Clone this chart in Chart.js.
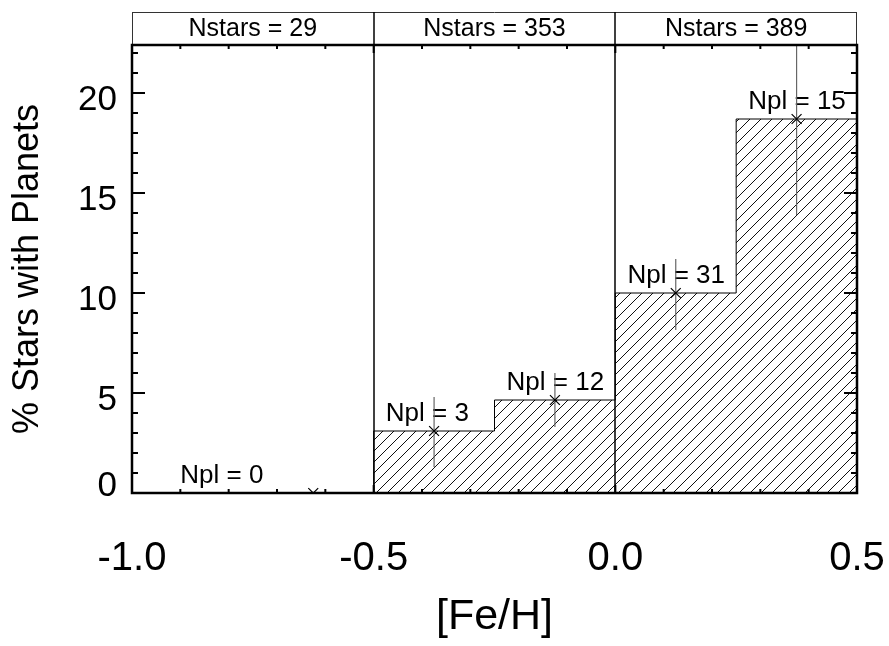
<!DOCTYPE html>
<html><head><meta charset="utf-8">
<script src="https://cdn.jsdelivr.net/npm/chart.js@4/dist/chart.umd.min.js"></script>
<style>html,body{margin:0;padding:0;background:#fff}canvas{display:block}</style>
</head><body>
<canvas id="c" width="889" height="646"></canvas>
<script>
// ---- data ----
const binEdges = [-1.0, -0.5, -0.25, 0.0, 0.25, 0.5];
const percentPlanets = [0.0, 3.1, 4.65, 10.0, 18.7];
const pointFeH = [-0.625, -0.375, -0.125, 0.125, 0.375];
const errLow = [0.0, 1.3, 3.3, 8.15, 13.9];
const errHigh = [0.0, 4.8, 6.0, 11.7, 23.5];
const nPlanets = [0, 3, 12, 31, 15];
const starGroupEdges = [-1.0, -0.5, 0.0, 0.5];
const nStars = [29, 353, 389];
const xTicks = [-1.0, -0.5, 0.0, 0.5];
const yTicks = [0, 5, 10, 15, 20];
const xMinorStep = 0.1;
const yMinorStep = 1;
const xRange = [-1.0, 0.5];
const yRange = [0, 22.4];

const FONT = '"Liberation Sans", Arial, Helvetica, sans-serif';
const labelDx = [-0.275, -0.1, -0.1, -0.1, -0.1];
const labelDy = 0.5;

function makeHatch() {
  const s = 11;
  const c = document.createElement('canvas');
  c.width = s; c.height = s;
  const g = c.getContext('2d');
  g.strokeStyle = '#111'; g.lineWidth = 1;
  g.beginPath();
  g.moveTo(-1, s + 1); g.lineTo(s + 1, -1);
  g.moveTo(-2, 2); g.lineTo(2, -2);
  g.moveTo(s - 2, s + 2); g.lineTo(s + 2, s - 2);
  g.stroke();
  return g.createPattern(c, 'repeat');
}

const histPoints = binEdges.map((e, i) => ({ x: e, y: percentPlanets[Math.min(i, percentPlanets.length - 1)] }));
const crossPoints = pointFeH.map((v, i) => ({ x: v, y: percentPlanets[i] }));
const errDatasets = pointFeH.map((v, i) => ({
  type: 'line', order: 2,
  data: [{ x: v, y: errLow[i] }, { x: v, y: errHigh[i] }],
  borderColor: '#666', borderWidth: 1.2, pointRadius: 0, fill: false
}));

function ticksOn(scale, from, to, step, majors, cb) {
  const n = Math.round((to - from) / step);
  for (let k = 0; k <= n; k++) {
    const v = from + k * step;
    const isMajor = majors.some(m => Math.abs(m - v) < 1e-6);
    cb(scale.getPixelForValue(v), isMajor);
  }
}

const framePlugin = {
  id: 'frame',
  beforeDatasetsDraw(chart) {
    const { ctx, scales: { x, y } } = chart;
    ctx.save();
    ctx.font = '26px ' + FONT;
    ctx.fillStyle = '#000';
    ctx.textAlign = 'left';
    ctx.textBaseline = 'alphabetic';
    nPlanets.forEach((n, i) => {
      ctx.fillText('Npl = ' + n, x.getPixelForValue(pointFeH[i] + labelDx[i]), y.getPixelForValue(percentPlanets[i] + labelDy));
    });
    ctx.restore();
  },
  afterDatasetsDraw(chart) {
    const { ctx, chartArea: a, scales: { x, y } } = chart;
    ctx.save();
    const hTop = a.top - 33;
    // header boxes
    ctx.strokeStyle = '#333'; ctx.lineWidth = 1;
    ctx.beginPath();
    ctx.moveTo(a.left, hTop + 0.5); ctx.lineTo(a.right, hTop + 0.5);
    ctx.moveTo(a.left + 0.5, hTop); ctx.lineTo(a.left + 0.5, a.top);
    ctx.moveTo(a.right - 0.5, hTop); ctx.lineTo(a.right - 0.5, a.top);
    ctx.stroke();
    ctx.font = '25px ' + FONT; ctx.textAlign = 'center'; ctx.textBaseline = 'middle'; ctx.fillStyle = '#000';
    nStars.forEach((n, i) => {
      const x0 = x.getPixelForValue(starGroupEdges[i]), x1 = x.getPixelForValue(starGroupEdges[i + 1]);
      ctx.fillText('Nstars = ' + n, (x0 + x1) / 2, (hTop + a.top) / 2 + 1);
    });
    // separators
    ctx.strokeStyle = '#000'; ctx.lineWidth = 1.5;
    starGroupEdges.slice(1, -1).forEach(v => {
      const px = Math.round(x.getPixelForValue(v));
      ctx.beginPath(); ctx.moveTo(px, hTop); ctx.lineTo(px, a.bottom); ctx.stroke();
    });
    // frame
    ctx.lineWidth = 2.5;
    ctx.strokeRect(a.left, a.top, a.right - a.left, a.bottom - a.top);
    // ticks
    ctx.lineWidth = 2;
    ctx.beginPath();
    ticksOn(x, xRange[0], xRange[1], xMinorStep, xTicks, (px, maj) => {
      const L = maj ? 8 : 4;
      ctx.moveTo(px, a.bottom); ctx.lineTo(px, a.bottom - L);
      ctx.moveTo(px, a.top); ctx.lineTo(px, a.top + L);
    });
    ticksOn(y, yRange[0], Math.floor(yRange[1]), yMinorStep, yTicks, (py, maj) => {
      const L = maj ? 13 : 6;
      ctx.moveTo(a.left, py); ctx.lineTo(a.left + L, py);
      ctx.moveTo(a.right, py); ctx.lineTo(a.right - L, py);
    });
    ctx.stroke();
    ctx.restore();
  }
};

function zeroPad(s) { s.paddingLeft = 0; s.paddingRight = 0; s.paddingTop = 0; s.paddingBottom = 0; }

new Chart(document.getElementById('c'), {
  type: 'line',
  data: {
    datasets: [
      {
        type: 'line', order: 10, data: histPoints, stepped: 'before', borderColor: '#000', borderWidth: 1,
        backgroundColor: makeHatch(), fill: 'origin', pointRadius: 0
      },
      ...errDatasets,
      {
        type: 'scatter', order: 0, data: crossPoints, pointStyle: 'crossRot', pointRadius: 7,
        borderColor: '#000', backgroundColor: '#000', borderWidth: 1.2, showLine: false
      }
    ]
  },
  options: {
    responsive: false, animation: false, devicePixelRatio: 1,
    layout: { padding: { top: 45, right: 32, left: 0, bottom: 0 } },
    plugins: { legend: { display: false }, tooltip: { enabled: false } },
    scales: {
      x: {
        type: 'linear', min: xRange[0], max: xRange[1],
        afterBuildTicks: s => { s.ticks = xTicks.map(v => ({ value: v })); },
        afterFit: s => { s.height = 153; zeroPad(s); },
        grid: { display: false, drawTicks: false }, border: { display: false },
        ticks: { padding: 42, font: { size: 40, family: FONT }, color: '#000', maxRotation: 0, autoSkip: false,
          callback: v => Number(v).toFixed(1) },
        title: { display: true, text: '[Fe/H]', font: { size: 43, family: FONT }, color: '#000', padding: { top: 0, bottom: 3 } }
      },
      y: {
        type: 'linear', min: yRange[0], max: yRange[1],
        afterBuildTicks: s => { s.ticks = yTicks.map(v => ({ value: v })); },
        afterFit: s => { s.width = 132; zeroPad(s); },
        grid: { display: false, drawTicks: false }, border: { display: false },
        ticks: { padding: 15, labelOffset: 7, font: { size: 35, family: FONT, lineHeight: 0.8 }, color: '#000',
          callback: v => v === 0 ? ['0', ''] : String(v) },
        title: { display: true, text: '% Stars with Planets', font: { size: 36, family: FONT }, color: '#000', padding: { top: 6, bottom: 0 } }
      }
    }
  },
  plugins: [framePlugin]
});
</script>
</body></html>
